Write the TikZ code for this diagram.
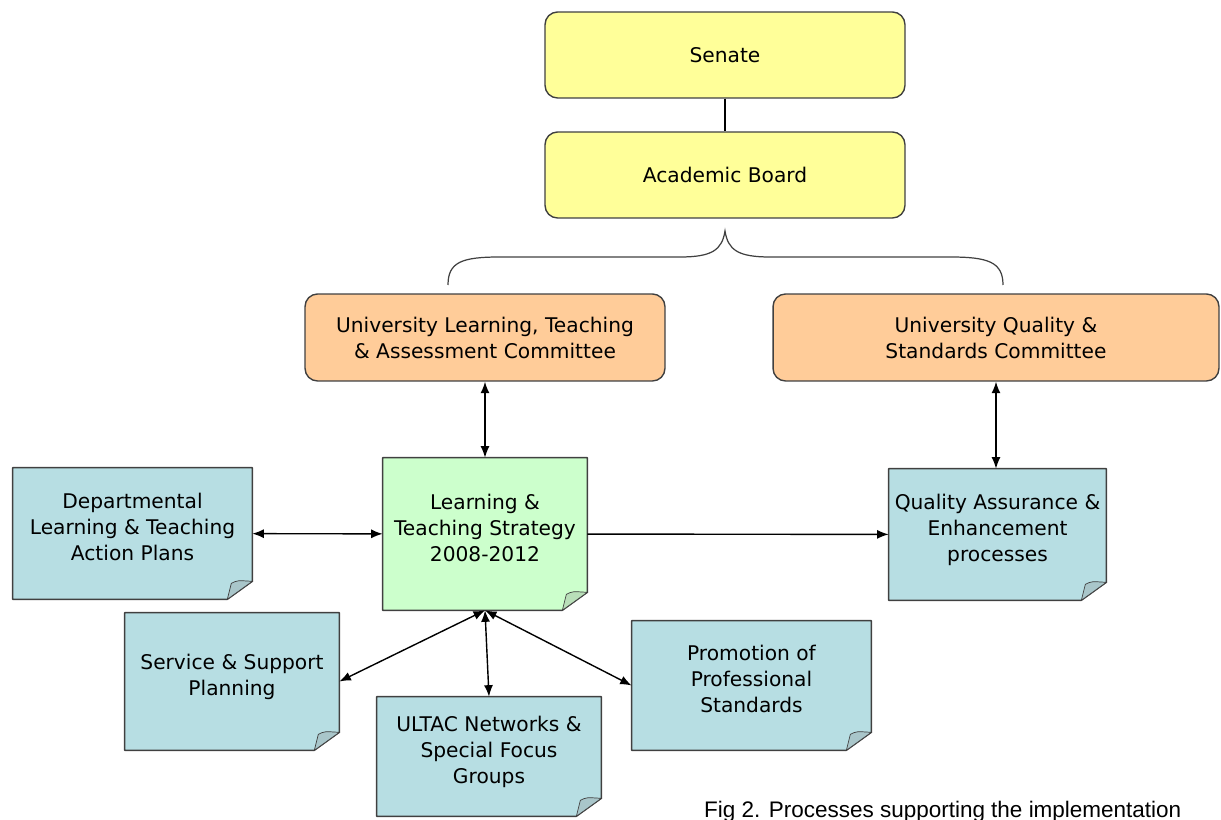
\documentclass[tikz,border=0pt]{standalone}
\usepackage{fontspec}
\setmainfont{DejaVu Sans}
\newfontfamily\capfont{Liberation Sans}
\usetikzlibrary{positioning, calc, backgrounds}
\usetikzlibrary{arrows.meta}
\definecolor{boardyellow}{HTML}{FFFF99}
\definecolor{cmteorange}{HTML}{FFCC99}
\definecolor{stratgreen}{HTML}{CCFFCC}
\definecolor{procblue}{HTML}{B7DEE3}
\definecolor{edgegray}{HTML}{404040}
\tikzstyle{board} = [rectangle, draw=edgegray, line width=0.8pt, fill=boardyellow,
    minimum width=7.2cm, minimum height=1.72cm, rounded corners=0.25cm, align=center]
\tikzstyle{cmte} = [board, fill=cmteorange, minimum height=1.74cm]
\tikzstyle{note} = [rectangle, align=center, inner sep=0pt, text depth=0.25cm]
\tikzstyle{line} = [draw, line width=0.8pt, {Latex[length=2.3mm,width=1.8mm]}-{Latex[length=2.3mm,width=1.8mm]}]
\tikzstyle{oneway} = [draw, line width=0.8pt, -{Latex[length=2.3mm,width=1.8mm]}]

\begin{document}
\begin{tikzpicture}[x=0.02cm, y=-0.02cm, font=\fontsize{11.5}{14.8}\selectfont]
  \useasboundingbox (0,0) rectangle (1221,820);
   % Place nodes
    \node [board] (senate) at (725,55) {Senate};
    \node [board] (acboard) at (725,175) {Academic Board};
    \node [cmte] (ultac) at (485,337.5) {University Learning, Teaching\\ \& Assessment Committee};
    \node [cmte, minimum width=8.92cm] (uqsc) at (996,337.5) {University Quality \&\\ Standards Committee};
    \node [note, minimum width=4.08cm, minimum height=3.04cm] (strat) at (485,534) {Learning \&\\ Teaching Strategy\\ 2008-2012};
    \node [note, minimum width=4.78cm, minimum height=2.62cm] (dept) at (132.5,533.5) {Departmental\\ Learning \& Teaching\\ Action Plans};
    \node [note, minimum width=4.34cm, minimum height=2.62cm] (qa) at (997.5,534.5) {Quality Assurance \&\\ Enhancement\\ processes};
    \node [note, minimum width=4.28cm, minimum height=2.74cm] (serv) at (232,681.5) {Service \& Support\\ Planning};
    \node [note, minimum width=4.48cm, minimum height=2.38cm] (netw) at (489,756.5) {ULTAC Networks \&\\ Special Focus\\ Groups};
    \node [note, minimum width=4.78cm, minimum height=2.58cm] (promo) at (751.5,685.5) {Promotion of\\ Professional\\ Standards};
    \node [anchor=base west, font=\capfont\fontsize{12.8}{15}\selectfont] (caption) at (698,817) {Fig 2. Processes supporting the implementation};
   % Note papers with folded corner
    \begin{scope}[on background layer]
    \foreach \n/\c in {strat/stratgreen, dept/procblue, qa/procblue, serv/procblue, netw/procblue, promo/procblue} {
      \draw [edgegray, line width=0.8pt, fill=\c, line join=round]
        (\n.north west) -- (\n.north east) -- ([yshift=0.36cm]\n.south east)
        -- ([xshift=-0.5cm]\n.south east) -- (\n.south west) -- cycle;
      \draw [edgegray, line width=0.4pt, fill=\c!75!gray]
        ([yshift=0.36cm]\n.south east) .. controls ([xshift=-0.3cm,yshift=0.38cm]\n.south east)
        .. ([xshift=-0.42cm,yshift=0.32cm]\n.south east) -- ([xshift=-0.5cm]\n.south east) -- cycle;
    }
    \end{scope}
   % Draw edges
    \path [draw, line width=0.8pt] (senate) -- (acboard);
    \coordinate (braceL) at (448,285);
    \coordinate (braceR) at (1003,285);
    \coordinate (bracetip) at (725,231);
    \draw [edgegray, line width=0.7pt] (braceL) .. controls (448,262) and (462,257) .. (500,257) -- (680,257)
      .. controls (712,257) and (722,250) .. (bracetip) .. controls (728,250) and (738,257) .. (770,257)
      -- (950,257) .. controls (988,257) and (1003,262) .. (braceR);
    \path [line] (ultac) -- (strat);
    \path [line] (uqsc.south) -- (qa.north -| uqsc.south);
    \path [line] (dept) -- (strat);
    \path [oneway] (strat) -- (qa);
    \path [line] (strat.south) -- (serv.east);
    \path [line] (strat.south) -- (netw.north);
    \path [line] (strat.south) -- (promo.west);
\end{tikzpicture}
\end{document}
